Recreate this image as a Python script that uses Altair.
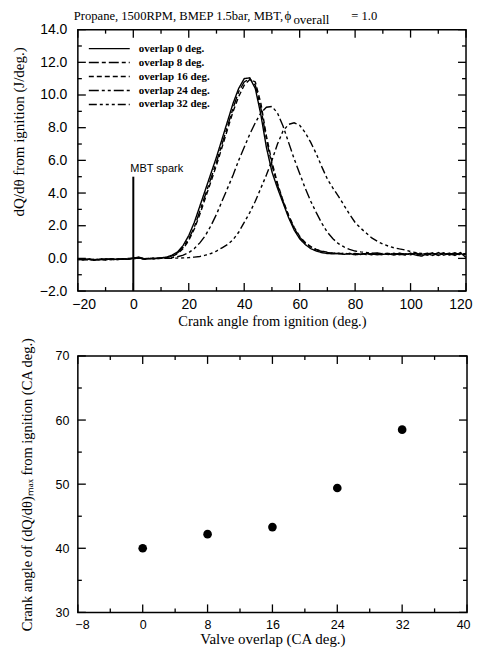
import altair as alt
import pandas as pd

# ---------------- data ----------------
crank_angle = [-20, -18, -16, -14, -12, -10, -8, -6, -4, -2, 0, 2, 4, 6, 8, 10,
               12, 14, 16, 18, 20, 22, 24, 26, 28, 30, 32, 34, 36, 38, 40, 42, 44,
               46, 48, 50, 52, 54, 56, 58, 60, 62, 64, 66, 68, 70,
               72, 74, 76, 78, 80, 82, 84, 86, 88, 90, 92, 94, 96, 98, 100, 102,
               104, 106, 108, 110, 112, 114, 116, 118, 120]

overlap_0 = [-0.05, -0.10, -0.06, -0.12, -0.04, -0.08, -0.03, -0.07, -0.02, -0.05, 0.02, 0.08, -0.04, -0.02, 0.00, 0.03,
             0.08, 0.20, 0.40, 0.80, 1.40, 2.20, 3.20, 4.20, 5.20, 6.20, 7.30, 8.40, 9.50, 10.40, 11.00, 11.05, 10.40,
             8.80, 6.80, 5.30, 4.30, 3.40, 2.50, 1.75, 1.20, 0.85, 0.60, 0.45, 0.35, 0.30,
             0.28, 0.32, 0.25, 0.30, 0.22, 0.26, 0.30, 0.22, 0.30, 0.25, 0.28, 0.20, 0.32, 0.24, 0.30, 0.20,
             0.14, 0.30, 0.18, 0.36, 0.20, 0.30, 0.18, 0.36, 0.05]

overlap_8 = [-0.08, -0.04, -0.10, -0.06, -0.09, -0.03, -0.06, -0.02, -0.06, -0.03, 0.00, 0.04, -0.02, 0.00, -0.03, 0.02,
             0.06, 0.15, 0.35, 0.70, 1.20, 1.90, 2.90, 3.90, 4.90, 5.90, 7.00, 8.10, 9.20, 10.20, 10.80, 11.00, 10.60,
             9.20, 7.30, 5.70, 4.50, 3.50, 2.60, 1.85, 1.30, 0.95, 0.70, 0.52, 0.42, 0.36,
             0.32, 0.28, 0.33, 0.26, 0.30, 0.24, 0.32, 0.27, 0.22, 0.30, 0.24, 0.31, 0.22, 0.28, 0.24, 0.33,
             0.20, 0.26, 0.32, 0.18, 0.30, 0.24, 0.34, 0.20, 0.28]

overlap_16 = [-0.04, -0.08, -0.03, -0.09, -0.06, -0.10, -0.05, -0.08, -0.04, -0.06, -0.02, 0.02, -0.05, -0.01, 0.02, 0.00,
              0.05, 0.12, 0.30, 0.60, 1.10, 1.80, 2.70, 3.70, 4.70, 5.70, 6.80, 7.90, 9.00, 9.90, 10.60, 10.95, 10.80,
              9.50, 7.50, 5.90, 4.60, 3.55, 2.65, 1.90, 1.35, 0.98, 0.72, 0.55, 0.44, 0.38,
              0.33, 0.30, 0.26, 0.31, 0.25, 0.29, 0.23, 0.30, 0.26, 0.21, 0.30, 0.25, 0.28, 0.20, 0.32, 0.24,
              0.29, 0.19, 0.30, 0.25, 0.34, 0.21, 0.28, 0.24, 0.30]

overlap_24 = [-0.06, -0.03, -0.08, -0.05, -0.10, -0.04, -0.07, -0.03, -0.05, -0.01, 0.01, 0.03, -0.03, 0.01, -0.01, 0.01,
              0.03, 0.05, 0.10, 0.20, 0.35, 0.60, 0.95, 1.40, 2.00, 2.70, 3.50, 4.30, 5.10, 6.00, 6.80, 7.60, 8.30,
              8.90, 9.25, 9.30, 8.90, 8.10, 7.10, 6.10, 5.20, 4.30, 3.50, 2.80, 2.15, 1.60,
              1.20, 0.90, 0.70, 0.55, 0.45, 0.40, 0.36, 0.31, 0.34, 0.28, 0.32, 0.26, 0.30, 0.27, 0.22, 0.30,
              0.25, 0.32, 0.22, 0.28, 0.25, 0.32, 0.22, 0.30, 0.26]

overlap_32 = [-0.03, -0.07, -0.04, -0.08, -0.02, -0.06, -0.04, -0.08, -0.03, -0.04, 0.00, 0.02, -0.02, 0.00, -0.02, 0.00,
              0.00, 0.01, 0.02, 0.03, 0.05, 0.08, 0.12, 0.20, 0.30, 0.45, 0.65, 0.85, 1.15, 1.60, 2.20, 2.80, 3.50,
              4.30, 5.10, 6.00, 7.00, 7.80, 8.20, 8.30, 8.15, 7.70, 7.10, 6.40, 5.60, 4.85,
              4.30, 3.80, 3.25, 2.70, 2.20, 1.85, 1.55, 1.25, 1.05, 0.88, 0.75, 0.65, 0.58, 0.52, 0.42, 0.35,
              0.30, 0.28, 0.33, 0.26, 0.30, 0.24, 0.31, 0.26, 0.28]

series_labels = ["overlap 0 deg.", "overlap 8 deg.", "overlap 16 deg.",
                 "overlap 24 deg.", "overlap 32 deg."]
series_values = [overlap_0, overlap_8, overlap_16, overlap_24, overlap_32]
dash_patterns = [[1, 0], [10, 3, 4, 3], [5, 3], [10, 3, 3, 3, 3, 3], [8, 3, 3, 3, 3, 3, 3, 3]]

spark_angle = [0]
spark_base = [-2.0]
spark_top = [5.0]
spark_label = ["MBT spark"]

valve_overlap = [0, 8, 16, 24, 32]
peak_angle = [40.0, 42.2, 43.3, 49.4, 58.5]

x1_major = [-20, 0, 20, 40, 60, 80, 100, 120]
x1_minor = [-10, 10, 30, 50, 70, 90, 110]
y1_major = [-2, 0, 2, 4, 6, 8, 10, 12, 14]
y1_minor = [-1, 1, 3, 5, 7, 9, 11, 13]
x2_major = [-8, 0, 8, 16, 24, 32, 40]
x2_minor = [-4, 4, 12, 20, 28, 36]
y2_major = [30, 40, 50, 60, 70]
y2_minor = [35, 45, 55, 65]

title_main = ["Propane, 1500RPM, BMEP 1.5bar, MBT,"]
title_phi = ["\u03d5"]
title_sub = ["overall"]
title_end = ["= 1.0"]

# ---------------- layout constants ----------------
W1, H1 = 389, 262
W2, H2 = 390, 257
SERIF = "Liberation Serif"
SANS = "Liberation Sans"

curves = pd.DataFrame(
    [{"angle": a, "dq": v, "series": s}
     for s, vals in zip(series_labels, series_values)
     for a, v in zip(crank_angle, vals)]
)

xs1 = alt.Scale(domain=[-20, 120], nice=False, zero=False)
ys1 = alt.Scale(domain=[-2, 14], nice=False, zero=False)
xs2 = alt.Scale(domain=[-8, 40], nice=False, zero=False)
ys2 = alt.Scale(domain=[30, 70], nice=False, zero=False)
dash_scale = alt.Scale(domain=series_labels, range=dash_patterns)

xa1 = alt.Axis(values=x1_major, format="d", title="Crank angle from ignition (deg.)",
               labelFlush=True, labelFlushOffset=6, labelPadding=6, titlePadding=3,
               labelFontSize=14, titleFontSize=14.5)
ya1 = alt.Axis(values=y1_major, format=".1f", title="dQ/d\u03b8     from   ignition   (J/deg.)",
               labelPadding=11, titlePadding=13, titleY=102, titleFontSize=15, labelFontSize=14)
xa2 = alt.Axis(values=x2_major, format="d", title="Valve overlap (CA deg.)",
               labelFlush=True, labelFlushOffset=3, labelPadding=6, titlePadding=1,
               labelFontSize=12.5, titleFontSize=15)
ya2 = alt.Axis(values=y2_major, format="d",
               title="Crank angle of (dQ/d\u03b8)\u2098\u2090\u2093 from ignition (CA deg.)",
               labelPadding=9, titlePadding=21, labelFontSize=12.5, titleFontSize=14.5)


def tick_layers(xmaj, xmin, ymaj, ymin, xs, ys, xa, ya, W, H, lmaj=8, lmin=4):
    layers = []
    for vals, L in ((xmaj, lmaj), (xmin, lmin)):
        base = alt.Chart(pd.DataFrame({"v": vals})).mark_rule(color="black", strokeWidth=1.3)
        layers.append(base.encode(x=alt.X("v:Q", scale=xs, axis=xa), y=alt.value(H), y2=alt.value(H - L)))
        layers.append(base.encode(x=alt.X("v:Q", scale=xs, axis=xa), y=alt.value(0), y2=alt.value(L)))
    for vals, L in ((ymaj, lmaj), (ymin, lmin)):
        base = alt.Chart(pd.DataFrame({"v": vals})).mark_rule(color="black", strokeWidth=1.3)
        layers.append(base.encode(y=alt.Y("v:Q", scale=ys, axis=ya), x=alt.value(0), x2=alt.value(L)))
        layers.append(base.encode(y=alt.Y("v:Q", scale=ys, axis=ya), x=alt.value(W), x2=alt.value(W - L)))
    return layers


# ---------------- top chart ----------------
lines = alt.Chart(curves).mark_line(color="black", strokeWidth=1.4).encode(
    x=alt.X("angle:Q", scale=xs1, axis=xa1),
    y=alt.Y("dq:Q", scale=ys1, axis=ya1),
    strokeDash=alt.StrokeDash("series:N", scale=dash_scale, legend=None),
    order="angle:Q",
)

spark_df = pd.DataFrame({"angle": spark_angle, "base": spark_base, "top": spark_top, "label": spark_label})
spark = alt.Chart(spark_df).mark_rule(color="black", strokeWidth=2).encode(
    x=alt.X("angle:Q", scale=xs1, axis=xa1),
    y=alt.Y("base:Q", scale=ys1, axis=ya1),
    y2="top:Q",
)
spark_text = alt.Chart(spark_df).mark_text(
    align="left", baseline="bottom", dx=-3, dy=-3, font=SANS, fontSize=11, color="black"
).encode(
    x=alt.X("angle:Q", scale=xs1, axis=xa1),
    y=alt.Y("top:Q", scale=ys1, axis=ya1),
    text="label:N",
)


def title_piece(txt, x, y, size, font=SERIF, baseline="alphabetic"):
    return alt.Chart(pd.DataFrame({"t": txt})).mark_text(
        align="left", baseline=baseline, font=font, fontSize=size, color="black"
    ).encode(x=alt.value(x), y=alt.value(y), text="t:N")


titles = [
    title_piece(title_main, -4, -9.5, 12.6),
    title_piece(title_phi, 207, -10, 13),
    title_piece(title_sub, 216, -6, 13),
    title_piece(title_end, 274, -9.5, 12.6),
]

main_top = alt.layer(lines, spark, spark_text,
                     *tick_layers(x1_major, x1_minor, y1_major, y1_minor, xs1, ys1, xa1, ya1, W1, H1),
                     *titles)

legend_df = pd.DataFrame({"series": series_labels})
legend_scale = alt.Scale(type="point", domain=series_labels, range=[19, 75], padding=0)
legend_lines = alt.Chart(legend_df).mark_rule(color="black", strokeWidth=1.4).encode(
    x=alt.value(11), x2=alt.value(52),
    y=alt.Y("series:N", scale=legend_scale, axis=None),
    strokeDash=alt.StrokeDash("series:N", scale=dash_scale, legend=None),
)
legend_text = alt.Chart(legend_df).mark_text(
    align="left", baseline="middle", font=SERIF, fontSize=11, fontWeight="bold", color="black"
).encode(
    x=alt.value(61),
    y=alt.Y("series:N", scale=legend_scale, axis=None),
    text="series:N",
)
legend_layer = alt.layer(legend_lines, legend_text)

top = alt.layer(main_top, legend_layer).resolve_scale(y="independent").properties(width=W1, height=H1)

# ---------------- bottom chart ----------------
peaks = pd.DataFrame({"overlap": valve_overlap, "peak": peak_angle})
points = alt.Chart(peaks).mark_circle(color="black", opacity=1, size=75).encode(
    x=alt.X("overlap:Q", scale=xs2, axis=xa2),
    y=alt.Y("peak:Q", scale=ys2, axis=ya2),
)
bottom = alt.layer(points, *tick_layers(x2_major, x2_minor, y2_major, y2_minor, xs2, ys2, xa2, ya2, W2, H2)).properties(
    width=W2, height=H2
)

chart = alt.vconcat(top, bottom, spacing=65, bounds="flush").properties(
    padding={"left": 2, "top": 0, "right": 0, "bottom": 0}
).configure_view(
    stroke="black", strokeWidth=1.5
).configure_axis(
    domain=False, ticks=False, grid=False,
    labelFont=SANS, labelFontSize=12, labelColor="black",
    titleFont=SERIF, titleFontSize=13, titleFontWeight="normal", titleColor="black",
)

chart.save("out.html", embed_options={"renderer": "svg", "actions": False})
